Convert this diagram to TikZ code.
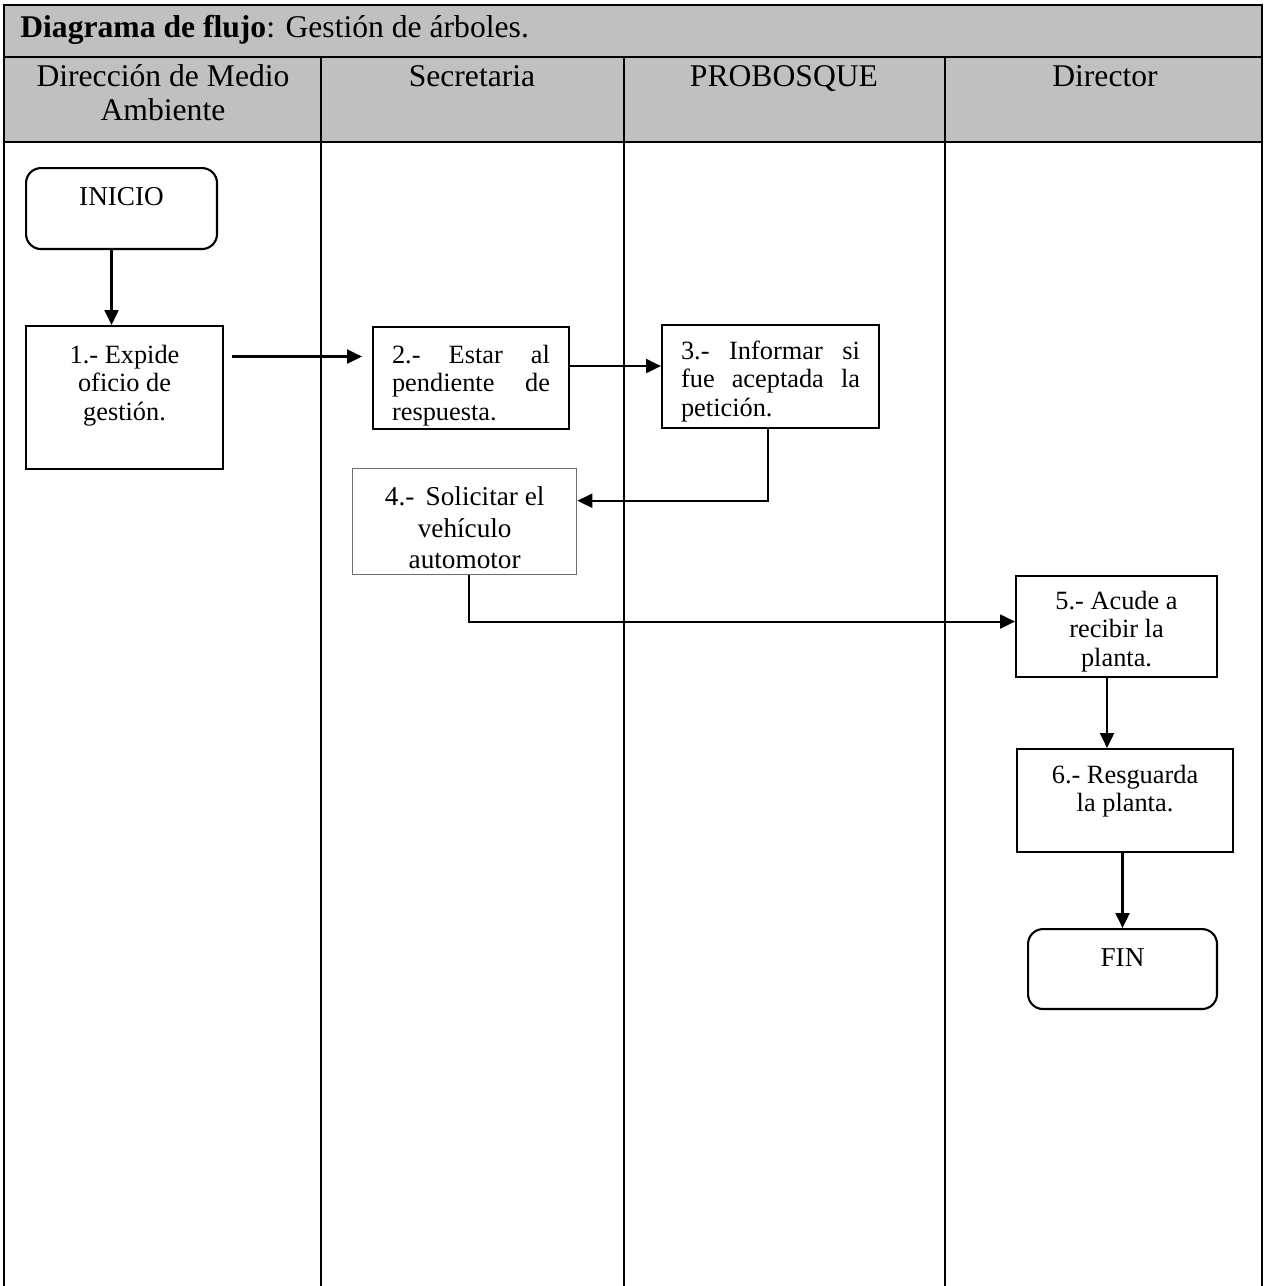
\documentclass[tikz,border=0pt]{standalone}
\usepackage{fontspec}
\setmainfont{Liberation Serif}
\usetikzlibrary{arrows.meta}
\definecolor{hdrgray}{RGB}{192,192,192}
\definecolor{boxgray}{RGB}{110,110,110}
\tikzset{
  tbl/.style={line width=1.2pt, draw=black},
  hdrtext/.style={inner sep=0pt, anchor=north, align=center, font=\fontsize{18}{19.5}\selectfont},
  stepbox/.style={draw=black, line width=1.2pt, anchor=north west, inner sep=0pt},
  termbox/.style={stepbox, rounded corners=0.3cm},
  boxtext/.style={inner sep=0pt, anchor=north, font=\fontsize{15}{16.2}\selectfont},
  arr/.style={line width=1.2pt, -{Triangle[length=0.3cm,width=0.28cm]}},
}
\begin{document}
\begin{tikzpicture}[x=0.02cm,y=-0.02cm]
\useasboundingbox (0,0) rectangle (1264,1286);
% header background
\fill[hdrgray] (4,5) rectangle (1262,142);
% table lines
\draw[tbl] (4,1286) -- (4,5) -- (1262,5) -- (1262,1286);
\draw[tbl] (4,57) -- (1262,57);
\draw[tbl] (4,142) -- (1262,142);
\foreach \xx in {321,624,945} \draw[tbl] (\xx,57) -- (\xx,1286);
% title
\node[inner sep=0pt, anchor=base west, font=\fontsize{18}{20}\selectfont] (title) at (20,37)
  {\textbf{Diagrama de flujo}: Gestión de árboles.};
% lane headers
\node[hdrtext] (h1) at (163,62) {\strut Dirección de Medio\\Ambiente};
\node[hdrtext] (h2) at (472,62) {\strut Secretaria};
\node[hdrtext] (h3) at (784,62) {\strut PROBOSQUE};
\node[hdrtext] (h4) at (1105,62) {\strut Director};
% boxes
\node[termbox, minimum width=3.82cm, minimum height=1.62cm] (ini) at (25,167) {};
\node[stepbox, minimum width=3.94cm, minimum height=2.86cm] (b1) at (25,325) {};
\node[stepbox, minimum width=3.92cm, minimum height=2.04cm] (b2) at (372,326) {};
\node[stepbox, minimum width=4.34cm, minimum height=2.06cm] (b3) at (661,324) {};
\node[stepbox, draw=boxgray, line width=0.8pt, minimum width=4.48cm, minimum height=2.12cm] (b4) at (352,468) {};
\node[stepbox, minimum width=4.02cm, minimum height=2.02cm] (b5) at (1015,575) {};
\node[stepbox, minimum width=4.32cm, minimum height=2.06cm] (b6) at (1016,748) {};
\node[termbox, minimum width=3.78cm, minimum height=1.60cm] (fin) at (1027,928) {};
% box texts
\node[boxtext, font=\fontsize{15.5}{16}\selectfont] (tini) at ([yshift=-0.36cm]ini.north) {\strut INICIO};
\node[boxtext, align=center] (t1) at ([yshift=-0.36cm]b1.north) {\strut 1.- Expide\\oficio de\\gestión.};
\node[boxtext, align=justify, text width=3.16cm] (t2) at ([yshift=-0.34cm]b2.north) {\strut 2.- Estar al\linebreak pendiente de\linebreak respuesta.};
\node[boxtext, align=justify, text width=3.58cm] (t3) at ([yshift=-0.3cm]b3.north) {\strut 3.- Informar si\linebreak fue aceptada la\linebreak petición.};
\node[boxtext, align=center, font=\fontsize{15.5}{18}\selectfont] (t4) at ([yshift=-0.3cm]b4.north) {\strut 4.-\, Solicitar el\\vehículo\\automotor};
\node[boxtext, align=center] (t5) at ([yshift=-0.28cm]b5.north) {\strut 5.- Acude a\\recibir la\\planta.};
\node[boxtext, align=center] (t6) at ([yshift=-0.3cm]b6.north) {\strut 6.- Resguarda\\la planta.};
\node[boxtext, font=\fontsize{15.5}{16}\selectfont] (tfin) at ([yshift=-0.36cm]fin.north) {\strut FIN};
% connectors
\coordinate (sIni) at ([xshift=-0.2cm]ini.south);
\draw[arr] (sIni) -- (sIni |- b1.north);
\coordinate (s12) at ([shift={(8,-41)}]b1.east);
\coordinate (e12) at ([xshift=-0.2cm]b2.west);
\draw[arr] (s12) -- (s12 -| e12);
\coordinate (s23) at ([yshift=0.24cm]b2.east);
\draw[arr] (s23) -- (s23 -| b3.west);
\coordinate (s34) at ([xshift=-0.05cm]b3.south);
\coordinate (e34) at ([yshift=0.42cm]b4.east);
\draw[arr] (s34) |- (e34);
\coordinate (s45) at ([xshift=0.08cm]b4.south);
\coordinate (e45) at ([yshift=0.1cm]b5.west);
\draw[arr] (s45) |- (e45);
\coordinate (s56) at ([xshift=-0.19cm]b5.south);
\draw[arr] (s56) -- (s56 |- b6.north);
\draw[arr] (b6.south -| fin.north) -- (fin.north);
\end{tikzpicture}
\end{document}
